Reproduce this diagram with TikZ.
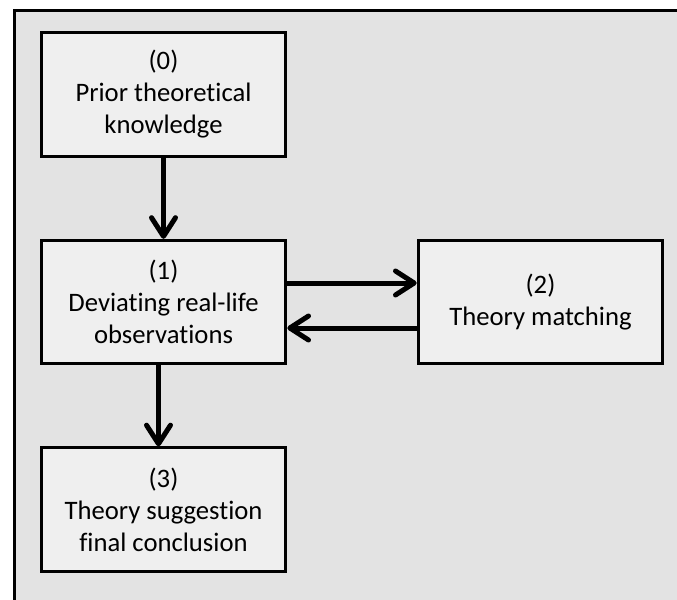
\documentclass[tikz,border=0pt]{standalone}
\usepackage{fontspec}
\setmainfont{Carlito}[Ligatures={NoCommon}]
\usetikzlibrary{arrows.meta}
\definecolor{panelgrey}{HTML}{E3E3E3}
\definecolor{boxgrey}{HTML}{EFEFEF}
\begin{document}
\begin{tikzpicture}[x=0.75pt,y=-0.75pt,
  stagebox/.style={draw=black,fill=boxgrey,line width=2.25pt,
    minimum width=183.5pt,minimum height=92.5pt,align=center,
    font=\fontsize{20}{24}\selectfont,inner sep=0pt},
  flow/.style={line width=3.75pt,
    -{Straight Barb[length=14pt,width=18pt,line cap=round,line join=round]}}]
  \useasboundingbox (0,0) rectangle (677,599);
  % outer panel, running off the right and bottom edges
  \begin{scope}
    \clip (0,0) rectangle (677,599);
    \draw[fill=panelgrey,line width=2.25pt] (14,11) rectangle (700,620);
  \end{scope}
  % the four stages
  \node[stagebox] (b0) at (163.5,94.5) {(0)\\Prior theoretical\\knowledge};
  \node[stagebox] (b1) at (163.5,302) {(1)\\Deviating real-life\\observations};
  \node[stagebox] (b2) at (540.5,302) {(2)\\Theory matching};
  \node[stagebox] (b3) at (163.5,509.5) {(3)\\Theory suggestion\\final conclusion};
  % connectors
  \draw[flow] (b0.south) -- (b1.north);
  \draw[flow] ([xshift=-3.75pt]b1.south) -- ([xshift=-3.75pt]b3.north);
  \draw[flow] ([yshift=14.25pt]b1.east) -- ([yshift=14.25pt]b2.west);
  \draw[flow] ([yshift=-19.5pt]b2.west) -- ([yshift=-19.5pt]b1.east);
\end{tikzpicture}
\end{document}
